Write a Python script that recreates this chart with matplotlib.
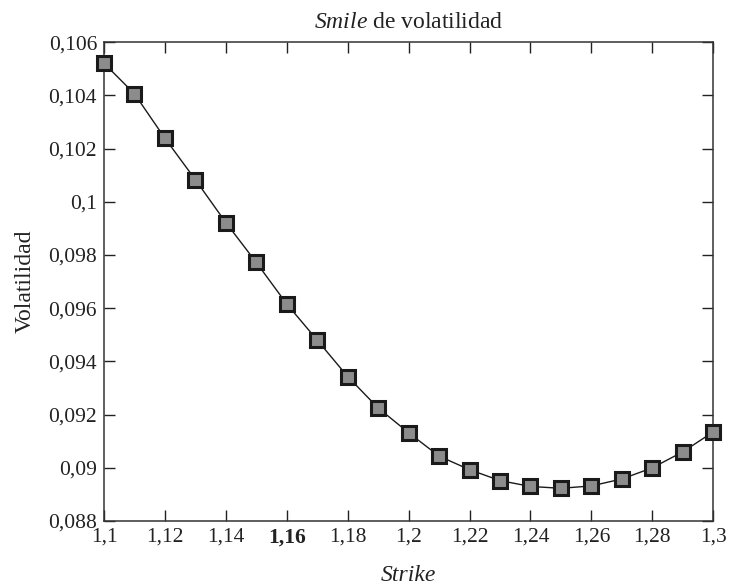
import matplotlib.pyplot as plt

plt.rcParams['font.family'] = ['Liberation Serif', 'DejaVu Serif']
plt.rcParams['mathtext.fontset'] = 'custom'
plt.rcParams['mathtext.rm'] = 'Liberation Serif'
plt.rcParams['mathtext.it'] = 'Liberation Serif:italic'

# strike and volatility
strike = [1.10, 1.11, 1.12, 1.13, 1.14, 1.15, 1.16, 1.17, 1.18, 1.19, 1.20,
          1.21, 1.22, 1.23, 1.24, 1.25, 1.26, 1.27, 1.28, 1.29, 1.30]
vol = [0.10521, 0.10406, 0.10239, 0.10083, 0.09922, 0.09772, 0.09616,
       0.09480, 0.09343, 0.09225, 0.09132, 0.09044, 0.08993, 0.08952,
       0.08930, 0.08923, 0.08932, 0.08958, 0.09000, 0.09060, 0.09135]

xticks = [1.10, 1.12, 1.14, 1.16, 1.18, 1.20, 1.22, 1.24, 1.26, 1.28, 1.30]
xtick_labels = ['1,1', '1,12', '1,14', '1,16', '1,18', '1,2', '1,22', '1,24', '1,26', '1,28', '1,3']
yticks = [0.088, 0.090, 0.092, 0.094, 0.096, 0.098, 0.100, 0.102, 0.104, 0.106]
ytick_labels = ['0,088', '0,09', '0,092', '0,094', '0,096', '0,098', '0,1', '0,102', '0,104', '0,106']

fig = plt.figure(figsize=(7.3, 5.87), dpi=100)
ax = fig.add_axes([0.1425, 0.1124, 0.8345, 0.8156])

ax.plot(strike, vol, color='#1a1a1a', linewidth=1.0, marker='s', markersize=9.5,
        markerfacecolor='#8c8c8c', markeredgecolor='#1a1a1a', markeredgewidth=2.2,
        clip_on=False, zorder=3)

ax.set_xlim(1.10, 1.30)
ax.set_ylim(0.088, 0.106)
ax.set_xticks(xticks)
ax.set_xticklabels(xtick_labels)
ax.set_yticks(yticks)
ax.set_yticklabels(ytick_labels)
ax.get_xticklabels()[3].set_fontweight('bold')

ax.tick_params(direction='in', length=8, width=1, top=True, right=True,
               labelsize=15.5, colors='#222222', pad=5)
for s in ax.spines.values():
    s.set_color('#333333')
    s.set_linewidth(1.1)

ax.set_title(r'$\mathit{Smile}$ de volatilidad', fontsize=17, pad=10, color='#222222')
ax.set_xlabel('Strike', fontsize=17, style='italic', labelpad=12, color='#222222')
ax.set_ylabel('Volatilidad', fontsize=17, labelpad=9, color='#222222')

fig.savefig('out.png', dpi=100)
